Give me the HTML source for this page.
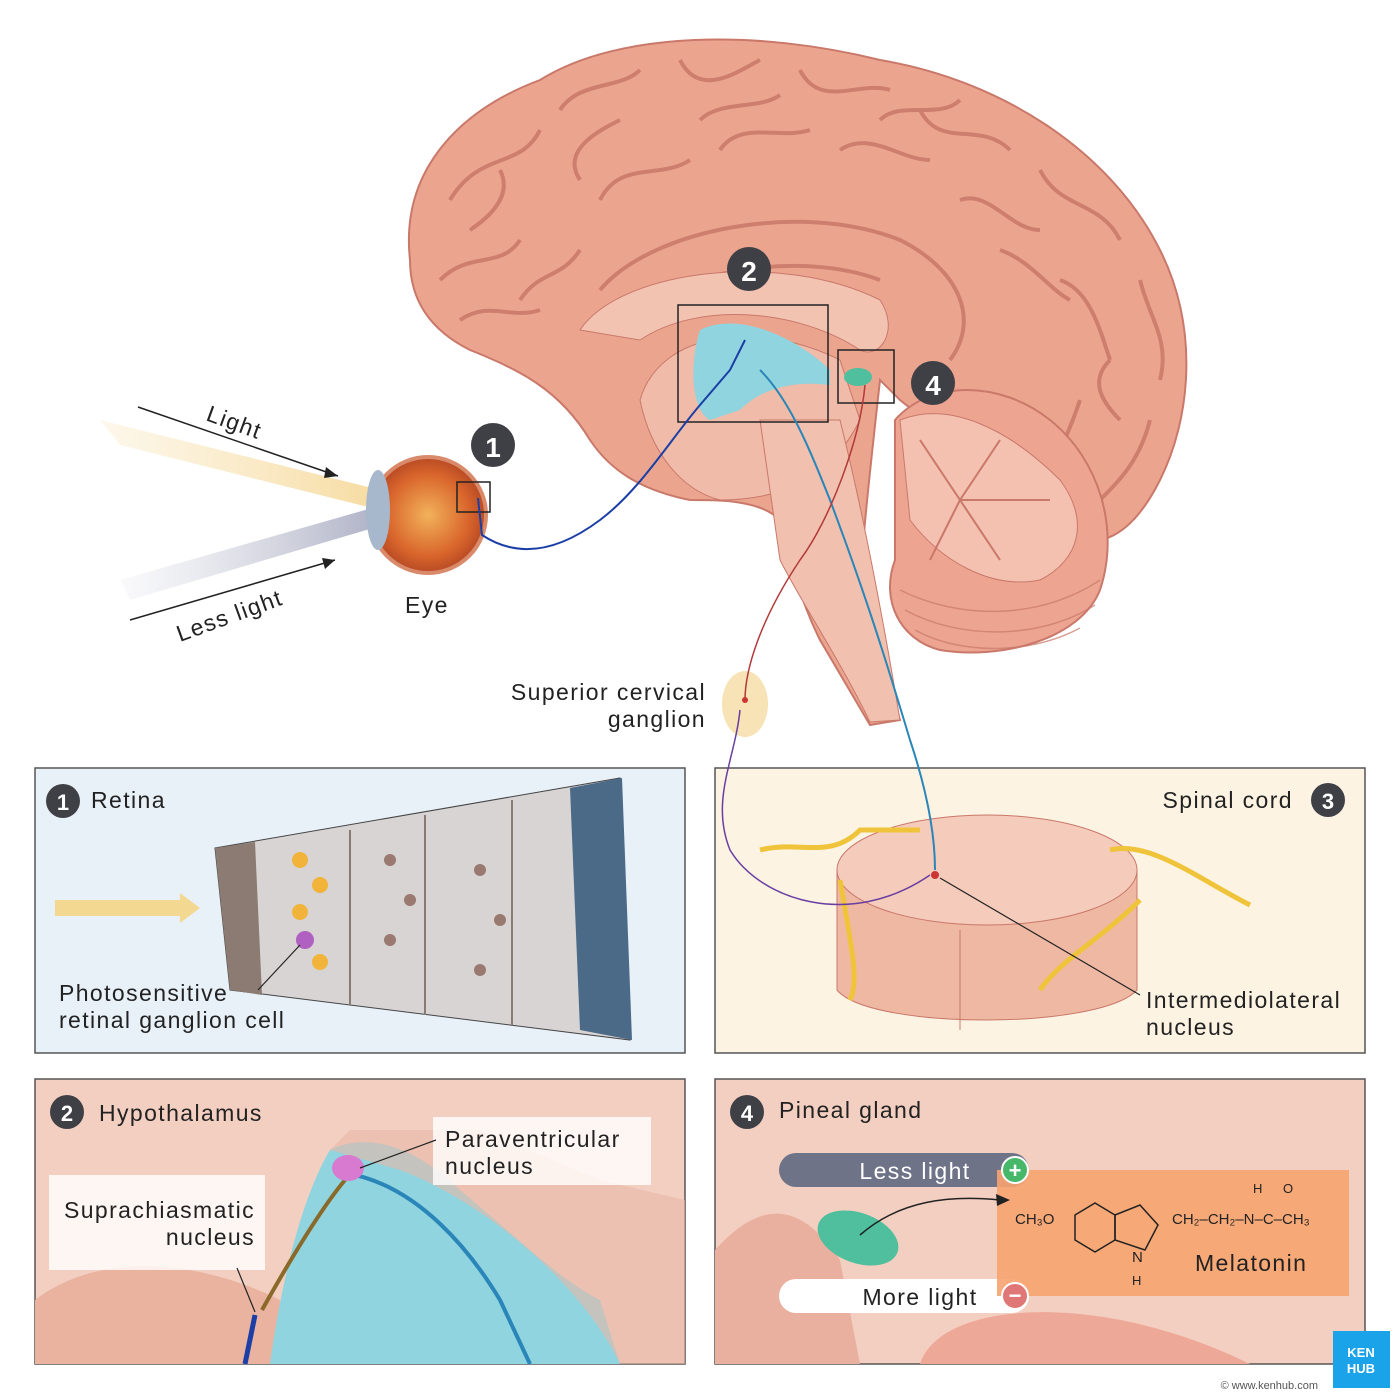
<!DOCTYPE html>
<html><head><meta charset="utf-8"><style>
html,body{margin:0;padding:0;background:#fff}
svg{display:block}
text{font-family:"Liberation Sans",sans-serif;fill:#222}
.l{font-size:23px;letter-spacing:1.4px}
</style></head><body>
<svg width="1400" height="1400" viewBox="0 0 1400 1400" xmlns="http://www.w3.org/2000/svg">
<defs>
<linearGradient id="beam1" x1="0" y1="0" x2="1" y2="0"><stop offset="0" stop-color="#f6dca0" stop-opacity="0.2"/><stop offset="1" stop-color="#f3cf80" stop-opacity="0.9"/></linearGradient>
<linearGradient id="beam2" x1="0" y1="0" x2="1" y2="0"><stop offset="0" stop-color="#c9cbd8" stop-opacity="0.1"/><stop offset="1" stop-color="#9b9fb8" stop-opacity="0.9"/></linearGradient>
<radialGradient id="eyeg" cx="0.5" cy="0.5" r="0.5"><stop offset="0" stop-color="#f2b25a"/><stop offset="0.7" stop-color="#d9662c"/><stop offset="1" stop-color="#b84a24"/></radialGradient>
</defs>

<!-- beams -->
<polygon points="100,420 120,445 440,525 440,505" fill="url(#beam1)"/>
<polygon points="120,580 130,600 400,520 400,500" fill="url(#beam2)"/>
<line x1="138" y1="407" x2="338" y2="476" stroke="#222" stroke-width="1.5"/>
<polygon points="338,476 326,467 324,478" fill="#222"/>
<line x1="130" y1="620" x2="335" y2="560" stroke="#222" stroke-width="1.5"/>
<polygon points="335,560 322,558 325,569" fill="#222"/>
<text x="205" y="420" class="l" transform="rotate(20 205 420)">Light</text>
<text x="180" y="642" class="l" transform="rotate(-20 180 642)">Less light</text>

<!-- brain -->
<path d="M410,260 C400,170 460,110 540,80 C620,30 760,30 880,60 C1000,80 1110,150 1160,250 C1200,330 1190,420 1160,480 C1130,540 1090,560 1050,520 L900,400 L880,380 C870,470 860,560 860,600 L900,720 L870,725 L820,640 C800,600 790,560 780,520 C760,500 720,500 690,500 C640,490 610,470 590,440 C560,390 520,370 470,350 C430,330 410,300 410,260 Z" fill="#eba58f" stroke="#c9786a" stroke-width="2"/>
<g fill="none" stroke="#c87565" stroke-width="4" opacity="0.8">
<path d="M450,200 C480,150 520,170 540,130 M560,110 C580,80 620,90 640,70 M680,60 C700,100 740,70 760,60 M800,70 C820,110 860,80 890,90 M920,110 C940,150 980,120 1010,150 M1040,170 C1060,210 1100,200 1120,240 M1140,280 C1150,320 1170,340 1160,380 M1150,420 C1140,460 1120,480 1100,500"/>
<path d="M440,280 C470,250 500,270 520,240 M520,300 C540,270 560,280 580,250 M600,200 C620,160 660,180 690,160 M720,150 C740,120 780,140 810,130 M840,150 C870,130 900,160 930,160 M960,200 C990,190 1010,230 1040,230 M1060,280 C1090,290 1100,330 1110,360 M1080,400 C1070,430 1060,450 1050,470"/>
<path d="M470,230 C500,210 510,190 500,170 M580,180 C560,150 600,130 620,120 M700,120 C720,100 760,110 780,95 M880,120 C900,100 940,120 960,100 M1000,250 C1030,260 1050,290 1070,300 M1120,420 C1100,400 1090,380 1110,360 M460,320 C490,300 510,320 540,310"/>
<path d="M600,290 C650,230 800,200 900,240 C960,270 980,320 950,360"/>
<path d="M620,320 C680,270 800,250 880,280"/>
</g>
<path d="M580,330 C620,270 780,250 880,300 C900,330 880,360 860,350 C800,310 700,300 640,340 Z" fill="#f3c3b2" stroke="#c9786a"/>
<path d="M640,400 C660,330 760,320 840,360 L860,420 C830,480 780,500 720,500 C680,490 650,450 640,400 Z" fill="#f0bba8" stroke="#c9786a"/>
<path d="M760,420 L840,420 C860,500 880,600 900,720 L870,722 C840,660 800,600 780,560 Z" fill="#f1c0ae" stroke="#c9786a"/>
<path d="M895,420 C930,380 1000,380 1050,420 C1100,460 1120,530 1100,590 C1080,640 1000,660 940,650 C900,640 880,600 895,560 Z" fill="#eda592" stroke="#c9786a" stroke-width="2"/>
<path d="M900,420 C950,400 1010,430 1060,480 C1090,520 1080,560 1040,580 C990,590 940,560 910,520 Z" fill="#f4c0b0" stroke="#c9786a"/>
<g stroke="#c9786a" fill="none" stroke-width="2"><path d="M960,500 L920,440 M960,500 L1000,440 M960,500 L1050,500 M960,500 L1000,560 M960,500 L930,560"/></g>
<g stroke="#c9786a" fill="none" stroke-width="1.5" opacity="0.7"><path d="M900,590 C960,620 1040,620 1100,580 M905,610 C960,640 1040,640 1095,605 M915,630 C960,655 1030,655 1080,628"/></g>
<path d="M700,330 C740,310 800,340 830,370 L830,385 C790,380 760,390 740,410 L710,420 C690,410 690,360 700,330 Z" fill="#8fd4df"/>
<ellipse cx="858" cy="377" rx="14" ry="9" fill="#4fbf9d"/>
<rect x="678" y="305" width="150" height="117" fill="none" stroke="#222" stroke-width="1.5"/>
<rect x="838" y="350" width="56" height="53" fill="none" stroke="#222" stroke-width="1.5"/>
<circle cx="749" cy="269" r="22" fill="#3f3f46"/><text x="749" y="281" font-size="28" font-weight="bold" text-anchor="middle" style="fill:#fff">2</text>
<circle cx="933" cy="383" r="22" fill="#3f3f46"/><text x="933" y="395" font-size="28" font-weight="bold" text-anchor="middle" style="fill:#fff">4</text>
<circle cx="493" cy="445" r="22" fill="#3f3f46"/><text x="493" y="457" font-size="28" font-weight="bold" text-anchor="middle" style="fill:#fff">1</text>

<!-- eye -->
<circle cx="428" cy="515" r="58" fill="url(#eyeg)" stroke="#d98a6a" stroke-width="4"/>
<ellipse cx="378" cy="510" rx="12" ry="40" fill="#a8b8cc"/>
<rect x="457" y="482" width="33" height="30" fill="none" stroke="#222" stroke-width="1.5"/>
<text x="405" y="613" class="l">Eye</text>

<ellipse cx="745" cy="704" rx="23" ry="33" fill="#f7e3b5"/>
<text x="706" y="700" class="l" text-anchor="end">Superior cervical</text>
<text x="706" y="727" class="l" text-anchor="end">ganglion</text>

<!-- Panel 1 -->
<rect x="35" y="768" width="650" height="285" fill="#e8f0f8" stroke="#555" stroke-width="1.5"/>
<polygon points="215,848 620,778 630,1040 230,990" fill="#d8d4d4" stroke="#444"/>
<polygon points="215,848 255,842 262,995 230,990" fill="#8b7b72"/>
<polygon points="570,788 622,778 632,1040 580,1030" fill="#4a6a88"/>
<g stroke="#8a7a74" stroke-width="2"><line x1="350" y1="830" x2="350" y2="1005"/><line x1="425" y1="815" x2="425" y2="1015"/><line x1="512" y1="800" x2="512" y2="1025"/></g>
<g fill="#f2b33a"><circle cx="300" cy="860" r="8"/><circle cx="320" cy="885" r="8"/><circle cx="300" cy="912" r="8"/><circle cx="320" cy="962" r="8"/></g>
<circle cx="305" cy="940" r="9" fill="#b060c0"/>
<g fill="#9a7a70"><circle cx="390" cy="860" r="6"/><circle cx="410" cy="900" r="6"/><circle cx="390" cy="940" r="6"/><circle cx="480" cy="870" r="6"/><circle cx="500" cy="920" r="6"/><circle cx="480" cy="970" r="6"/></g>
<polygon points="55,900 180,900 180,893 200,908 180,923 180,916 55,916" fill="#f3d891"/>
<circle cx="63" cy="801" r="17" fill="#3f3f46"/><text x="63" y="810" font-size="22" font-weight="bold" text-anchor="middle" style="fill:#fff">1</text>
<text x="91" y="808" class="l">Retina</text>
<line x1="258" y1="990" x2="300" y2="945" stroke="#222" stroke-width="1.2"/>
<text x="59" y="1001" class="l">Photosensitive</text>
<text x="59" y="1028" class="l">retinal ganglion cell</text>

<!-- Panel 3 -->
<rect x="715" y="768" width="650" height="285" fill="#fdf3e3" stroke="#555" stroke-width="1.5"/>
<path d="M837,870 L837,990 C870,1030 1100,1030 1137,990 L1137,870 Z" fill="#efb8a3" stroke="#c9786a"/>
<ellipse cx="987" cy="870" rx="150" ry="55" fill="#f5cbbb" stroke="#c9786a"/>
<line x1="960" y1="930" x2="960" y2="1030" stroke="#c9786a"/>
<g stroke="#f0c43a" stroke-width="5" fill="none"><path d="M760,850 C800,840 830,860 860,830 L920,830"/><path d="M840,880 C850,940 860,980 850,1000"/><path d="M1110,850 C1150,840 1200,880 1250,905"/><path d="M1140,900 C1100,940 1060,960 1040,990"/></g>
<circle cx="935" cy="875" r="4" fill="#c33"/>
<line x1="940" y1="878" x2="1140" y2="995" stroke="#222" stroke-width="1.2"/>
<text x="1293" y="808" class="l" text-anchor="end">Spinal cord</text>
<circle cx="1328" cy="800" r="17" fill="#3f3f46"/><text x="1328" y="809" font-size="22" font-weight="bold" text-anchor="middle" style="fill:#fff">3</text>
<text x="1146" y="1008" class="l">Intermediolateral</text>
<text x="1146" y="1035" class="l">nucleus</text>

<!-- pathways (on top) -->
<path d="M478,498 L482,535 C520,560 560,550 600,520 C640,490 670,440 700,405 L730,370 L745,340" fill="none" stroke="#1c3fa6" stroke-width="2"/>
<path d="M760,370 C790,400 810,450 830,500 C860,580 880,640 910,740 C930,800 935,840 935,870" fill="none" stroke="#2a86b8" stroke-width="2"/>
<path d="M865,385 C860,440 830,520 800,560 C760,620 745,670 745,700" fill="none" stroke="#b23a3a" stroke-width="1.5"/>
<path d="M740,710 C735,760 710,800 730,850 C760,900 850,930 930,875" fill="none" stroke="#6a3ea0" stroke-width="1.5"/>
<circle cx="745" cy="700" r="3" fill="#c33"/>

<!-- Panel 2 -->
<rect x="35" y="1079" width="650" height="285" fill="#f3cfc1" stroke="#555" stroke-width="1.5"/>
<path d="M35,1300 C100,1250 200,1260 280,1300 L280,1364 L35,1364 Z" fill="#eab3a0"/>
<path d="M270,1364 C280,1290 300,1200 330,1150 C370,1130 420,1150 460,1190 C520,1240 560,1280 600,1300 L620,1364 Z" fill="#8fd4df"/>
<path d="M330,1150 L350,1130 L480,1130 L600,1180 L685,1200 L685,1364 L620,1364 C580,1280 480,1200 400,1170 Z" fill="#e9b8a6" opacity="0.6"/>
<path d="M262,1310 C290,1260 320,1210 345,1180" fill="none" stroke="#8a6a2a" stroke-width="4"/>
<path d="M355,1175 C420,1190 470,1250 500,1300 L530,1364" fill="none" stroke="#2a86b8" stroke-width="4"/>
<path d="M245,1364 L255,1315" stroke="#1c3fa6" stroke-width="5"/>
<ellipse cx="348" cy="1168" rx="16" ry="13" fill="#d77ad0"/>
<circle cx="67" cy="1112" r="17" fill="#3f3f46"/><text x="67" y="1121" font-size="22" font-weight="bold" text-anchor="middle" style="fill:#fff">2</text>
<text x="99" y="1121" class="l">Hypothalamus</text>
<rect x="49" y="1175" width="216" height="95" fill="#fff" opacity="0.8"/>
<text x="255" y="1218" class="l" text-anchor="end">Suprachiasmatic</text>
<text x="255" y="1245" class="l" text-anchor="end">nucleus</text>
<line x1="237" y1="1268" x2="255" y2="1312" stroke="#222" stroke-width="1.2"/>
<rect x="433" y="1117" width="218" height="68" fill="#fff" opacity="0.8"/>
<text x="445" y="1147" class="l">Paraventricular</text>
<text x="445" y="1174" class="l">nucleus</text>
<line x1="436" y1="1140" x2="360" y2="1168" stroke="#222" stroke-width="1.2"/>

<!-- Panel 4 -->
<rect x="715" y="1079" width="650" height="285" fill="#f3cfc1" stroke="#555" stroke-width="1.5"/>
<path d="M715,1250 C760,1200 800,1200 840,1260 L860,1364 L715,1364 Z" fill="#e9b0a0"/>
<path d="M920,1364 C940,1300 1100,1290 1250,1364 Z" fill="#eea898"/>
<ellipse cx="858" cy="1238" rx="42" ry="25" fill="#4fbf9d" transform="rotate(20 858 1238)"/>
<circle cx="747" cy="1112" r="17" fill="#3f3f46"/><text x="747" y="1121" font-size="22" font-weight="bold" text-anchor="middle" style="fill:#fff">4</text>
<text x="779" y="1118" class="l">Pineal gland</text>
<rect x="779" y="1153" width="250" height="34" rx="17" fill="#6f7387"/>
<text x="915" y="1179" class="l" text-anchor="middle" style="fill:#fff">Less light</text>
<rect x="779" y="1279" width="250" height="34" rx="17" fill="#fff"/>
<text x="920" y="1305" class="l" text-anchor="middle">More light</text>
<rect x="997" y="1170" width="352" height="126" fill="#f7a36f" opacity="0.9"/>
<circle cx="1015" cy="1170" r="13" fill="#47b86a" stroke="#fff" stroke-width="2"/><text x="1015" y="1178" font-size="22" font-weight="bold" text-anchor="middle" style="fill:#fff">+</text>
<circle cx="1015" cy="1296" r="13" fill="#e07777" stroke="#fff" stroke-width="2"/><text x="1015" y="1303" font-size="22" font-weight="bold" text-anchor="middle" style="fill:#fff">−</text>
<path d="M860,1235 C900,1200 950,1195 1000,1200" fill="none" stroke="#222" stroke-width="1.5"/>
<polygon points="1010,1200 996,1194 997,1206" fill="#222"/>
<text x="1015" y="1224" font-size="15">CH₃O</text>
<polygon points="1075,1215 1095,1203 1115,1215 1115,1240 1095,1252 1075,1240" fill="none" stroke="#222" stroke-width="1.5"/>
<polygon points="1115,1215 1140,1205 1158,1225 1145,1250 1115,1240" fill="none" stroke="#222" stroke-width="1.5"/>
<text x="1132" y="1262" font-size="15">N</text><text x="1132" y="1285" font-size="13">H</text>
<text x="1172" y="1224" font-size="15">CH₂–CH₂–N–C–CH₃</text>
<text x="1253" y="1193" font-size="13">H</text><text x="1283" y="1193" font-size="13">O</text>
<text x="1195" y="1271" class="l">Melatonin</text>

<!-- logo -->
<rect x="1333" y="1331" width="57" height="57" fill="#1aa3e8"/>
<text x="1361" y="1357" font-size="13" font-weight="bold" text-anchor="middle" style="fill:#fff">KEN</text>
<text x="1361" y="1373" font-size="13" font-weight="bold" text-anchor="middle" style="fill:#fff">HUB</text>
<text x="1318" y="1389" font-size="11" text-anchor="end" style="fill:#555">© www.kenhub.com</text>
</svg>
</body></html>
